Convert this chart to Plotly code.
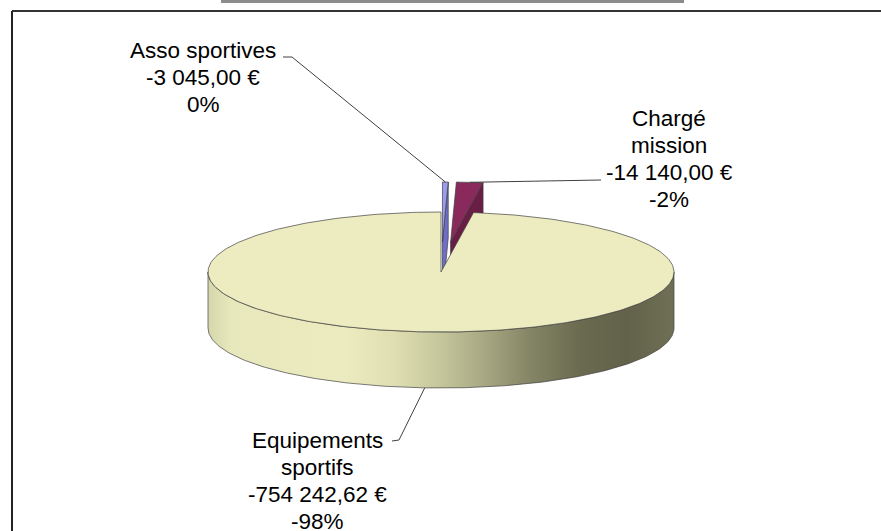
import numpy as np
import plotly.graph_objects as go

# ---------------- data ----------------
categories = ["Asso sportives", "Chargé mission", "Equipements sportifs"]
label_lines = [["Asso sportives"], ["Chargé", "mission"], ["Equipements", "sportifs"]]
values = [-3045.00, -14140.00, -754242.62]

# ---------------- style / geometry ----------------
W, H = 881, 531
CX, CY = 441.0, 272.0       # centre of top face
RX, RY = 233.0, 60.0        # ellipse radii of top face
DEPTH = 56.0                # thickness of the pie
explode = [0.5, 0.5, 0.0]
top_colors = ["#9C9CEB", "#8A2A5C", "#ECECC0"]
face_colors = ["#6E6EC8", "#6A1E46", "#C8C89C"]
edge_col = "rgba(60,60,60,0.85)"
FONT = "Liberation Sans, Arial, sans-serif"

# label anchors (text centre) and leader anchors near the text
label_pos = [(203, 50), (669, 118), (317, 440)]
LINE_H = 27
leader_text_end = [[(292, 57), (283, 57)], [(601, 180)], [(399, 440), (392, 441)]]


def fmt_money(v):
    s = f"{v:,.2f}".replace(",", " ").replace(".", ",")
    return s + " €"


def pt(theta, r=1.0, h=0.0, off=(0.0, 0.0)):
    t = np.radians(theta)
    x = CX + off[0] + r * RX * np.sin(t)
    y = CY + off[1] - r * RY * np.cos(t) + h * DEPTH
    return x, y


def arc(a, b, h=0.0, off=(0.0, 0.0)):
    n = max(2, int(abs(b - a) / 1.0) + 2)
    th = np.linspace(a, b, n)
    x, y = pt(th, 1.0, h, off)
    return list(x), list(y)


fig = go.Figure()


def poly(xs, ys, color, gradient=None):
    kw = dict(x=xs + [xs[0]], y=ys + [ys[0]], mode="lines", fill="toself",
              fillcolor=color, line=dict(color=edge_col, width=0.8),
              hoverinfo="skip", showlegend=False)
    if gradient is not None:
        kw["fillgradient"] = gradient
    fig.add_trace(go.Scatter(**kw))


total = sum(abs(v) for v in values)
angles = []
start = 0.0
for v in values:
    span = abs(v) / total * 360.0
    angles.append((start, start + span))
    start += span

offsets = []
for (a, b), e in zip(angles, explode):
    m = np.radians((a + b) / 2)
    offsets.append((e * RX * np.sin(m), -e * RY * np.cos(m)))

side_gradient = dict(type="horizontal", colorscale=[
    [0.00, "rgb(214,214,172)"], [0.05, "rgb(232,232,189)"], [0.30, "rgb(235,235,191)"],
    [0.40, "rgb(222,222,178)"], [0.50, "rgb(198,198,156)"], [0.60, "rgb(165,165,128)"],
    [0.70, "rgb(130,130,100)"], [0.80, "rgb(106,106,80)"], [0.90, "rgb(98,98,74)"],
    [1.00, "rgb(112,112,86)"]])

# draw exploded (back) slices first, then the big slice
order = sorted(range(len(values)), key=lambda i: -explode[i])
for i in order:
    a, b = angles[i]
    off = offsets[i]
    # outer curved side (front half only)
    lo, hi = max(a, 90.0), min(b, 270.0)
    if hi > lo:
        tx, ty = arc(lo, hi, 0.0, off)
        bx, by = arc(hi, lo, 1.0, off)
        grad = side_gradient if i == 2 else None
        poly(tx + bx, ty + by, face_colors[i], grad)
    # radial end face (visible when facing viewer)
    if np.sin(np.radians(b)) > 1e-6 and (b - a) < 359:
        p0 = pt(b, 0.0, 0.0, off); p1 = pt(b, 1.0, 0.0, off)
        p2 = pt(b, 1.0, 1.0, off); p3 = pt(b, 0.0, 1.0, off)
        poly([p0[0], p1[0], p2[0], p3[0]], [p0[1], p1[1], p2[1], p3[1]], face_colors[i])
    if np.sin(np.radians(a)) < -1e-6:
        p0 = pt(a, 0.0, 0.0, off); p1 = pt(a, 1.0, 0.0, off)
        p2 = pt(a, 1.0, 1.0, off); p3 = pt(a, 0.0, 1.0, off)
        poly([p0[0], p1[0], p2[0], p3[0]], [p0[1], p1[1], p2[1], p3[1]], face_colors[i])
    # top face
    ax_, ay_ = pt(a, 0.0, 0.0, off)
    tx, ty = arc(a, b, 0.0, off)
    poly([float(ax_)] + tx, [float(ay_)] + ty, top_colors[i])

# leader lines
for i, (a, b) in enumerate(angles):
    m = (a + b) / 2
    if explode[i] > 0:
        sx, sy = pt(m, 1.0, 0.0, offsets[i])
    else:
        sx, sy = pt(m, 1.0, 1.0, offsets[i])
    pts = [(float(sx), float(sy))] + leader_text_end[i]
    fig.add_trace(go.Scatter(x=[p[0] for p in pts], y=[p[1] for p in pts], mode="lines",
                             line=dict(color="#404040", width=1), hoverinfo="skip",
                             showlegend=False))

# labels
for i, v in enumerate(values):
    pct = int(round(v / total * 100))
    lines = label_lines[i] + [fmt_money(v), f"{pct}%"]
    x0, y0 = label_pos[i]
    for k, t in enumerate(lines):
        fig.add_annotation(x=x0, y=y0 + k * LINE_H, text=t, showarrow=False,
                           xanchor="center", yanchor="middle",
                           font=dict(family=FONT, size=22.5, color="#000000"))

# frame (top rule runs off the right edge like the reference)
fig.add_shape(type="rect", x0=221, x1=684, y0=0, y1=3, line=dict(width=0),
              fillcolor="#8C8C8C", layer="below")
fig.add_shape(type="line", x0=12, x1=W + 20, y0=11, y1=11,
              line=dict(color="#333333", width=2))
fig.add_shape(type="line", x0=12, x1=12, y0=11, y1=H + 20,
              line=dict(color="#222222", width=2))

fig.update_layout(
    width=W + 40, height=H + 40, margin=dict(l=0, r=0, t=0, b=0),
    paper_bgcolor="white", plot_bgcolor="white", showlegend=False,
    xaxis=dict(range=[0, W + 40], visible=False, fixedrange=True),
    yaxis=dict(range=[H + 40, 0], visible=False, fixedrange=True),
)

fig.write_html("out.html", config={"displayModeBar": False},
               post_script="document.documentElement.style.overflow='hidden';"
                           "document.body.style.margin='0';document.body.style.overflow='hidden';")
